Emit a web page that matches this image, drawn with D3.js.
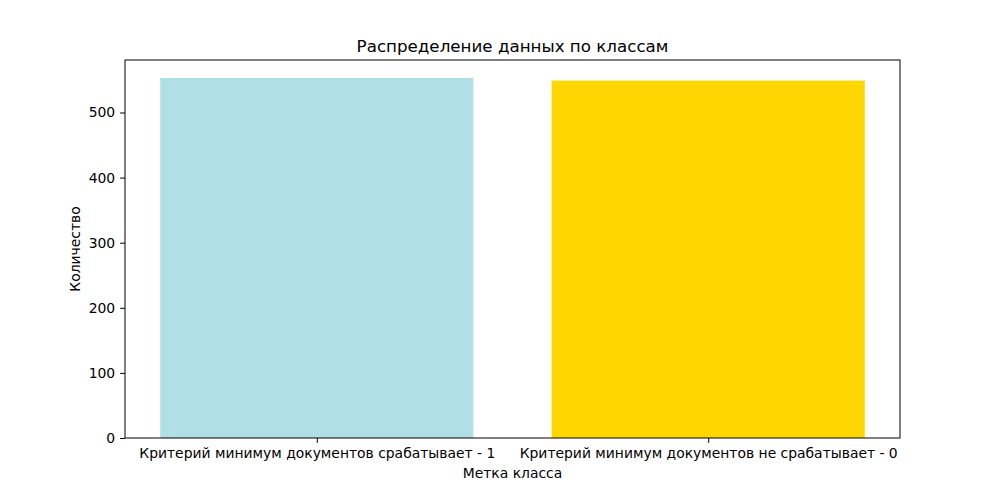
<!DOCTYPE html>
<html><head><meta charset="utf-8">
<script src="https://cdn.jsdelivr.net/npm/d3@7"></script>
<style>body{margin:0;background:#fff}svg{display:block}text{font-family:"DejaVu Sans",sans-serif;fill:#000}</style>
</head><body><svg id="c" width="1000" height="500"></svg>
<script>
const categories = ["Критерий минимум документов срабатывает - 1", "Критерий минимум документов не срабатывает - 0"];
const counts = [553, 549];
const colors = ["#b0dfe5", "#ffd700"];
const yTicks = [0, 100, 200, 300, 400, 500];
const title = "Распределение данных по классам";
const xLabel = "Метка класса";
const yLabel = "Количество";

const svg = d3.select("#c");
const L = 125, R = 900, T = 60, B = 438;
const x = d3.scaleLinear().domain([-0.49, 1.49]).range([L, R]);
const y = d3.scaleLinear().domain([0, d3.max(counts) * 1.05]).range([B, T]);
const bw = 0.8;

svg.selectAll("rect.bar").data(counts).enter().append("rect")
  .attr("x", (d, i) => x(i - bw / 2))
  .attr("width", (d, i) => x(i + bw / 2) - x(i - bw / 2))
  .attr("y", d => y(d))
  .attr("height", d => B - y(d))
  .attr("fill", (d, i) => colors[i]);

const yAxis = svg.append("g").attr("transform", `translate(${L},0)`)
  .call(d3.axisLeft(y).tickValues(yTicks).tickSize(4.9).tickPadding(4.9).tickFormat(d3.format("d")));
const xAxis = svg.append("g").attr("transform", `translate(0,${B})`)
  .call(d3.axisBottom(x).tickValues([0, 1]).tickSize(4.9).tickPadding(4.9).tickFormat((d) => categories[d]));
[yAxis, xAxis].forEach(g => {
  g.selectAll("text").style("font-size", "13.9px").style("font-family", "DejaVu Sans").attr("fill", "#000");
  g.selectAll("line").attr("stroke", "#000").attr("stroke-width", 1);
  g.select(".domain").remove();
});
svg.append("rect").attr("x", L).attr("y", T).attr("width", R - L).attr("height", B - T)
  .attr("fill", "none").attr("stroke", "#000").attr("stroke-width", 1);

svg.append("text").attr("x", (L + R) / 2).attr("y", 52).attr("text-anchor", "middle")
  .style("font-size", "16.7px").text(title);
svg.append("text").attr("x", (L + R) / 2).attr("y", 478).attr("text-anchor", "middle")
  .style("font-size", "13.9px").text(xLabel);
svg.append("text").attr("transform", `translate(80,${(T + B) / 2}) rotate(-90)`).attr("text-anchor", "middle")
  .style("font-size", "13.9px").text(yLabel);
</script></body></html>
